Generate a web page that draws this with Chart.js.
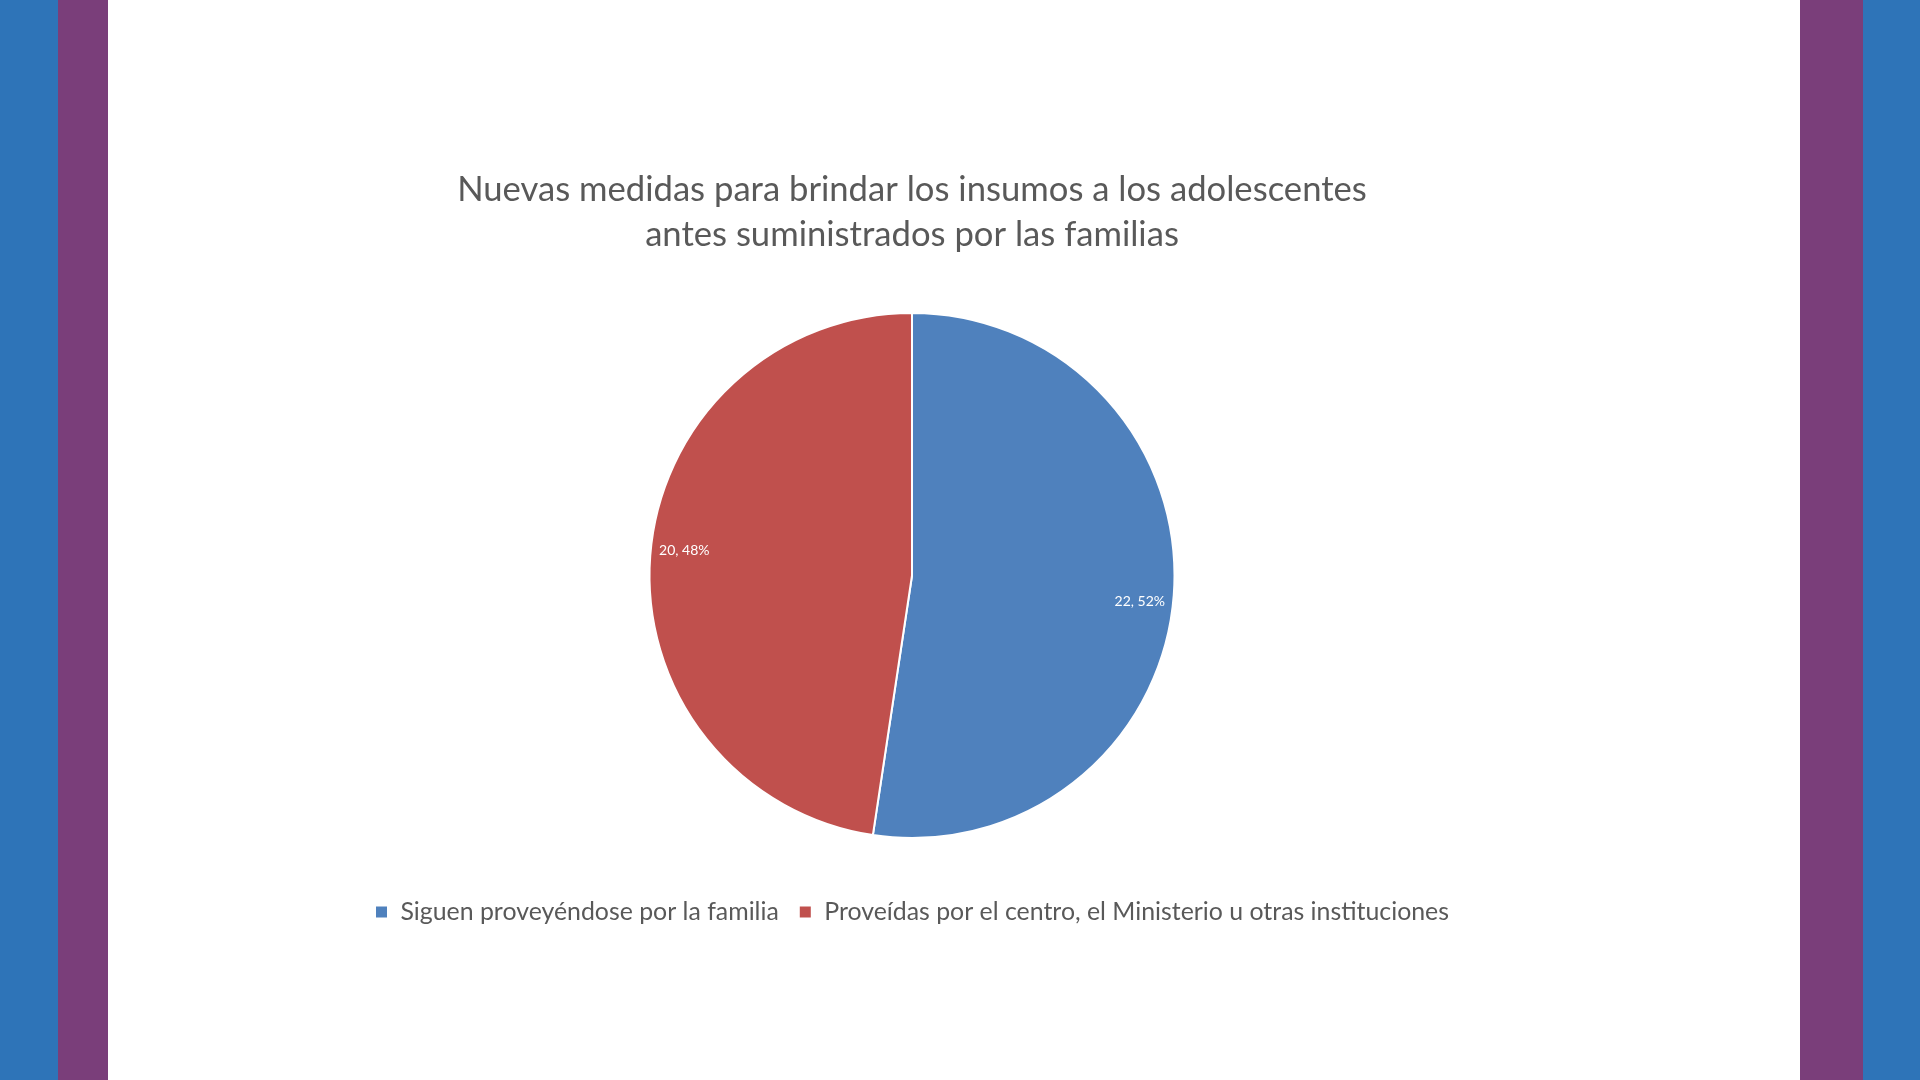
<!DOCTYPE html>
<html>
<head>
<meta charset="utf-8">
<script src="https://cdn.jsdelivr.net/npm/chart.js@4/dist/chart.umd.min.js"></script>
<style>
html,body{margin:0;padding:0;width:1920px;height:1080px;overflow:hidden;background:#ffffff;}
.bar{position:absolute;top:0;height:1080px;}
#wrap{position:absolute;left:0;top:0;width:1920px;height:1080px;}
</style>
</head>
<body>
<div class="bar" style="left:0;width:58px;background:#2E74B8"></div>
<div class="bar" style="left:58px;width:50px;background:#7A3E7A"></div>
<div class="bar" style="left:1800px;width:63px;background:#7A3E7A"></div>
<div class="bar" style="left:1863px;width:57px;background:#2E74B8"></div>
<div id="wrap"><canvas id="c" width="1920" height="1080"></canvas></div>
<script>
// ---- data ----
const categories = [
  "Siguen proveyéndose por la familia",
  "Proveídas por el centro, el Ministerio u otras instituciones"
];
const values = [22, 20];
const sliceColors = ["#4F81BD", "#C0504D"];
const titleLines = [
  "Nuevas medidas para brindar los insumos a los adolescentes",
  "antes suministrados por las familias"
];

// ---- styling / layout ----
const FONT = "Lato";
const textColor = "#595959";
function fitSize(text, target) {
  const ctx = document.createElement("canvas").getContext("2d");
  ctx.font = "100px " + FONT;
  return 100 * target / ctx.measureText(text).width;
}
const titleSize = fitSize(titleLines[0], 910);
const legendSize = fitSize(categories[0] + categories[1], 1003);
const titleLineH = 45;
const titleLH = titleLineH / titleSize;
const pieCY = 575.5, pieR = 262.5;
const legPad = 20, boxSz = 13;
const itemH = Math.max(legendSize, boxSz);
const B = 912 - legPad - itemH / 2;
const T = 2 * pieCY - B;
const titlePadTop = 190 - titleLineH / 2;
const titlePadBottom = T - (titlePadTop + 2 * titleLineH);
const legendH = itemH + legPad + 10;
const padBottom = 1080 - B - legendH;

const total = values.reduce((a, b) => a + b, 0);

const sliceLabels = {
  id: "sliceLabels",
  afterDatasetsDraw(chart) {
    const ctx = chart.ctx;
    const meta = chart.getDatasetMeta(0);
    ctx.save();
    ctx.fillStyle = "#ffffff";
    ctx.font = "14px " + FONT;
    ctx.textAlign = "center";
    ctx.textBaseline = "middle";
    meta.data.forEach((arc, i) => {
      const p = arc.getProps(["x", "y", "startAngle", "endAngle", "outerRadius"], true);
      const mid = (p.startAngle + p.endAngle) / 2;
      const v = chart.data.datasets[0].data[i];
      const pct = Math.round(v / total * 100);
      const lx = p.x + Math.cos(mid) * p.outerRadius * 0.87;
      const ly = p.y + Math.sin(mid) * p.outerRadius * 1.3;
      ctx.fillText(v + ", " + pct + "%", lx, ly);
    });
    ctx.restore();
  }
};

new Chart(document.getElementById("c"), {
  type: "pie",
  data: {
    labels: categories,
    datasets: [{
      data: values,
      backgroundColor: sliceColors,
      borderColor: "#ffffff",
      borderWidth: 2,
      radius: pieR
    }]
  },
  options: {
    responsive: false,
    animation: false,
    events: [],
    layout: { padding: { left: 108, right: 204, top: 0, bottom: padBottom } },
    plugins: {
      tooltip: { enabled: false },
      title: {
        display: true,
        text: titleLines,
        color: textColor,
        font: { family: FONT, size: titleSize, weight: "normal", lineHeight: titleLH },
        padding: { top: titlePadTop, bottom: titlePadBottom }
      },
      legend: {
        display: true,
        position: "bottom",
        labels: {
          color: textColor,
          font: { family: FONT, size: legendSize },
          boxWidth: boxSz,
          boxHeight: boxSz,
          padding: legPad
        }
      }
    }
  },
  plugins: [sliceLabels]
});
</script>
</body>
</html>
